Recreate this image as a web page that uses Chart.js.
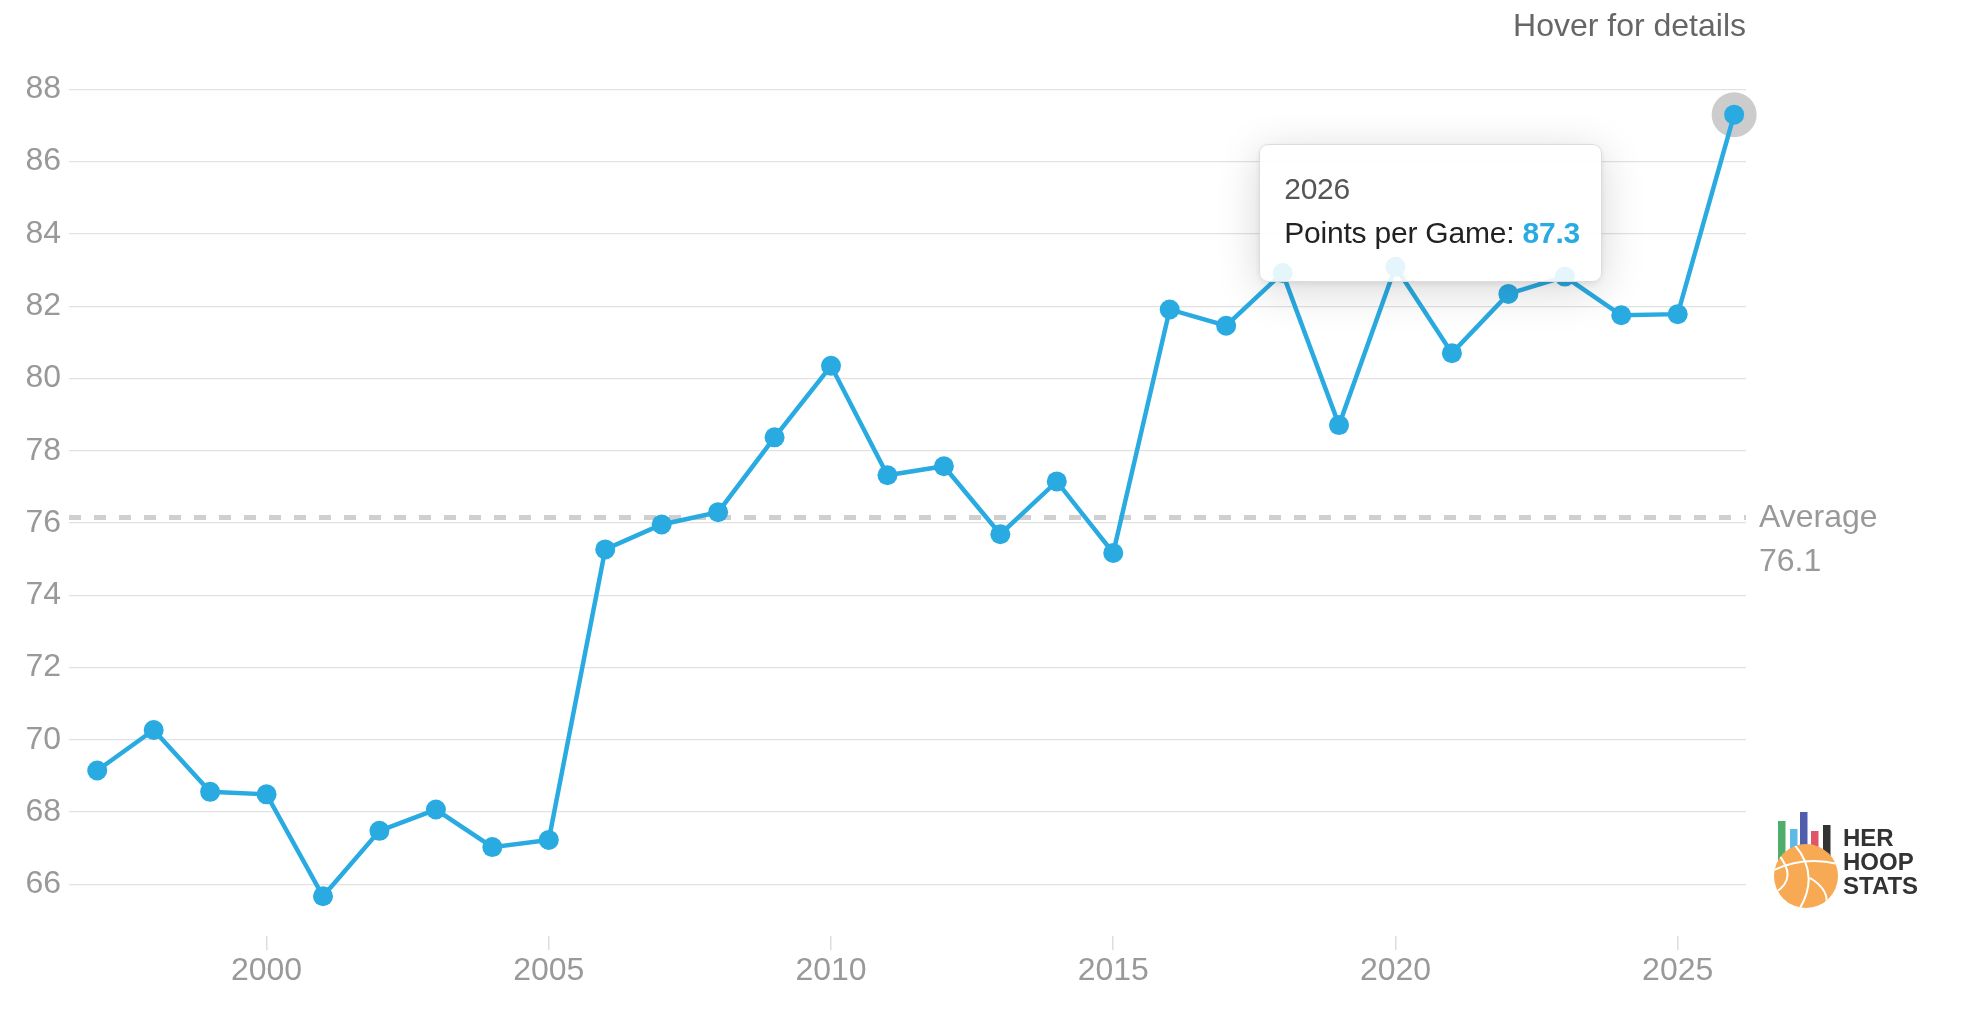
<!DOCTYPE html>
<html>
<head>
<meta charset="utf-8">
<title>Points per Game by season</title>
<script src="https://cdn.jsdelivr.net/npm/chart.js@4.4.1/dist/chart.umd.min.js"></script>
<style>
  html, body { margin: 0; padding: 0; background: #fff; }
  #wrap { position: relative; width: 1970px; height: 1034px; }
  #tip {
    position: absolute;
    opacity: 0;
    pointer-events: none;
    background: rgba(255, 255, 255, 0.88);
    border: 1px solid #dcdcdc;
    border-radius: 9px;
    box-shadow: 0 8px 44px rgba(0, 0, 0, 0.16), 0 2px 6px rgba(0, 0, 0, 0.08);
    padding: 26px 21px 30px 24px;
    font-family: "Liberation Sans", Arial, Helvetica, sans-serif;
    font-size: 30px;
    letter-spacing: -0.2px;
    white-space: nowrap;
  }
  #tip .tip-title { color: #555; line-height: 36px; margin-bottom: 8px; }
  #tip .tip-body { color: #222; line-height: 36px; }
  #tip .tip-value { color: #29abe2; font-weight: bold; }
</style>
</head>
<body>
<div id="wrap">
  <canvas id="ppg-chart"></canvas>
  <div id="tip"></div>
</div>
<script>
// season on x, points per game on y
const seasons = [1997, 1998, 1999, 2000, 2001, 2002, 2003, 2004, 2005, 2006,
                 2007, 2008, 2009, 2010, 2011, 2012, 2013, 2014, 2015, 2016,
                 2017, 2018, 2019, 2020, 2021, 2022, 2023, 2024, 2025, 2026];
const pointsPerGame = [69.15, 70.27, 68.56, 68.49, 65.67, 67.48, 68.07, 67.03, 67.23, 75.27,
                       75.96, 76.30, 78.37, 80.35, 77.32, 77.57, 75.69, 77.15, 75.17, 81.91,
                       81.46, 82.92, 78.71, 83.09, 80.70, 82.34, 82.82, 81.75, 81.78, 87.30];
const xTicks = [2000, 2005, 2010, 2015, 2020, 2025];
const yTicks = [66, 68, 70, 72, 74, 76, 78, 80, 82, 84, 86, 88];
const averageValue = 76.15;
const averageLabel = '76.1';
const seriesLabel = 'Points per Game';
const hoverIndex = seasons.length - 1;

const fontStack = '"Liberation Sans", Arial, Helvetica, sans-serif';
const lineBlue = '#29abe2';

Chart.defaults.font.family = fontStack;

function externalTooltip(context) {
    const tooltip = context.tooltip;
    const tipEl = document.getElementById('tip');
    if (tooltip.opacity === 0 || !tooltip.dataPoints || !tooltip.dataPoints.length) {
        tipEl.style.opacity = 0;
        return;
    }
    const point = tooltip.dataPoints[0];
    tipEl.innerHTML = '<div class="tip-title">' + point.parsed.x + '</div>' +
        '<div class="tip-body">' + seriesLabel + ': <span class="tip-value">' +
        point.parsed.y.toFixed(1) + '</span></div>';
    tipEl.style.opacity = 1;
    tipEl.style.left = (tooltip.caretX - 132 - tipEl.offsetWidth) + 'px';
    tipEl.style.top = (tooltip.caretY + 29) + 'px';
}

// dashed average line, its label and the grey halo behind the hovered point
const averagePlugin = {
    id: 'averageLine',
    beforeDatasetsDraw(chart) {
        const ctx = chart.ctx;
        const area = chart.chartArea;
        const y = chart.scales.y.getPixelForValue(averageValue);
        ctx.save();
        ctx.strokeStyle = '#cfcfcf';
        ctx.lineWidth = 5;
        ctx.setLineDash([12, 13]);
        ctx.beginPath();
        ctx.moveTo(area.left, y);
        ctx.lineTo(area.right, y);
        ctx.stroke();
        ctx.setLineDash([]);

        ctx.fillStyle = '#999';
        ctx.font = '32px ' + fontStack;
        ctx.textAlign = 'left';
        ctx.textBaseline = 'middle';
        ctx.fillText('Average', area.right + 13, y + 1);
        ctx.fillText(averageLabel, area.right + 13, y + 45);

        chart.getActiveElements().forEach(a => {
            ctx.fillStyle = '#cccccc';
            ctx.beginPath();
            ctx.arc(a.element.x, a.element.y, 22.5, 0, Math.PI * 2);
            ctx.fill();
        });
        ctx.restore();
    }
};

// small "Her Hoop Stats" mark in the bottom right corner
const logoPlugin = {
    id: 'logo',
    afterDraw(chart) {
        const ctx = chart.ctx;
        const lx = chart.chartArea.right + 32;
        const ly = chart.chartArea.bottom - 60;
        ctx.save();
        const bars = [
            [0, 55, '#4fae6c'],
            [12, 47, '#5fb9e6'],
            [22, 64, '#4f5fae'],
            [33, 45, '#e05668'],
            [45, 51, '#333333']
        ];
        bars.forEach(b => {
            ctx.fillStyle = b[2];
            ctx.fillRect(lx + b[0], ly - b[1], 7.5, b[1] + 10);
        });

        const cx = lx + 28, cy = ly;
        ctx.fillStyle = '#f7a953';
        ctx.beginPath();
        ctx.arc(cx, cy, 32, 0, Math.PI * 2);
        ctx.fill();
        ctx.save();
        ctx.clip();
        ctx.strokeStyle = '#ffffff';
        ctx.lineWidth = 2;
        ctx.beginPath();
        ctx.moveTo(cx - 12, cy - 32);
        ctx.quadraticCurveTo(cx + 14, cy - 2, cx - 6, cy + 32);
        ctx.moveTo(cx - 32, cy - 6);
        ctx.quadraticCurveTo(cx - 2, cy - 20, cx + 32, cy - 12);
        ctx.moveTo(cx - 28, cy - 22);
        ctx.quadraticCurveTo(cx - 8, cy + 2, cx - 30, cy + 16);
        ctx.moveTo(cx + 4, cy + 2);
        ctx.quadraticCurveTo(cx + 24, cy + 14, cx + 20, cy + 30);
        ctx.stroke();
        ctx.restore();

        ctx.fillStyle = '#333';
        ctx.font = 'bold 24px ' + fontStack;
        ctx.textAlign = 'left';
        ctx.textBaseline = 'alphabetic';
        ctx.fillText('HER', lx + 65, ly - 30);
        ctx.fillText('HOOP', lx + 65, ly - 6);
        ctx.fillText('STATS', lx + 65, ly + 18);
        ctx.restore();
    }
};

function createPpgChart() {
    const canvas = document.getElementById('ppg-chart');
    const points = seasons.map((s, i) => ({ x: s, y: pointsPerGame[i] }));

    const chart = new Chart(canvas, {
        type: 'line',
        data: {
            datasets: [{
                label: seriesLabel,
                data: points,
                borderColor: lineBlue,
                backgroundColor: lineBlue,
                borderWidth: 4.5,
                pointRadius: 10,
                pointBorderWidth: 0,
                pointBackgroundColor: lineBlue,
                pointHoverRadius: 10,
                pointHoverBorderWidth: 0,
                pointHoverBackgroundColor: lineBlue,
                tension: 0,
                clip: false
            }]
        },
        options: {
            responsive: true,
            maintainAspectRatio: false,
            animation: false,
            events: [],
            layout: { padding: { left: 0, right: 224, top: 0, bottom: 0 } },
            plugins: {
                legend: { display: false },
                title: {
                    display: true,
                    text: 'Hover for details',
                    align: 'end',
                    color: '#666',
                    font: { size: 32, weight: 'normal' },
                    padding: { top: 8, bottom: 43 }
                },
                tooltip: {
                    enabled: false,
                    external: externalTooltip
                }
            },
            scales: {
                x: {
                    type: 'linear',
                    min: 1996.5,
                    max: 2026.21,
                    afterBuildTicks: scale => { scale.ticks = xTicks.map(v => ({ value: v })); },
                    afterFit: scale => { scale.height = 98; },
                    border: { display: false },
                    grid: {
                        drawOnChartArea: false,
                        drawTicks: true,
                        tickLength: 14,
                        color: '#dddddd',
                        lineWidth: 1.5
                    },
                    ticks: {
                        color: '#999',
                        font: { size: 32 },
                        padding: 2,
                        maxRotation: 0,
                        callback: v => String(v)
                    }
                },
                y: {
                    min: 64.57,
                    max: 88,
                    afterBuildTicks: scale => { scale.ticks = yTicks.map(v => ({ value: v })); },
                    afterFit: scale => { scale.width = 69; },
                    border: { display: false },
                    grid: {
                        drawTicks: false,
                        color: '#e2e2e2',
                        lineWidth: 1.2
                    },
                    ticks: {
                        color: '#999',
                        font: { size: 32 },
                        padding: 8,
                        callback: v => String(v)
                    }
                }
            }
        },
        plugins: [averagePlugin, logoPlugin]
    });

    const active = [{ datasetIndex: 0, index: hoverIndex }];
    const el = chart.getDatasetMeta(0).data[hoverIndex];
    chart.setActiveElements(active);
    chart.tooltip.setActiveElements(active, { x: el.x, y: el.y });
    chart.update('none');
}

createPpgChart();
</script>
</body>
</html>
